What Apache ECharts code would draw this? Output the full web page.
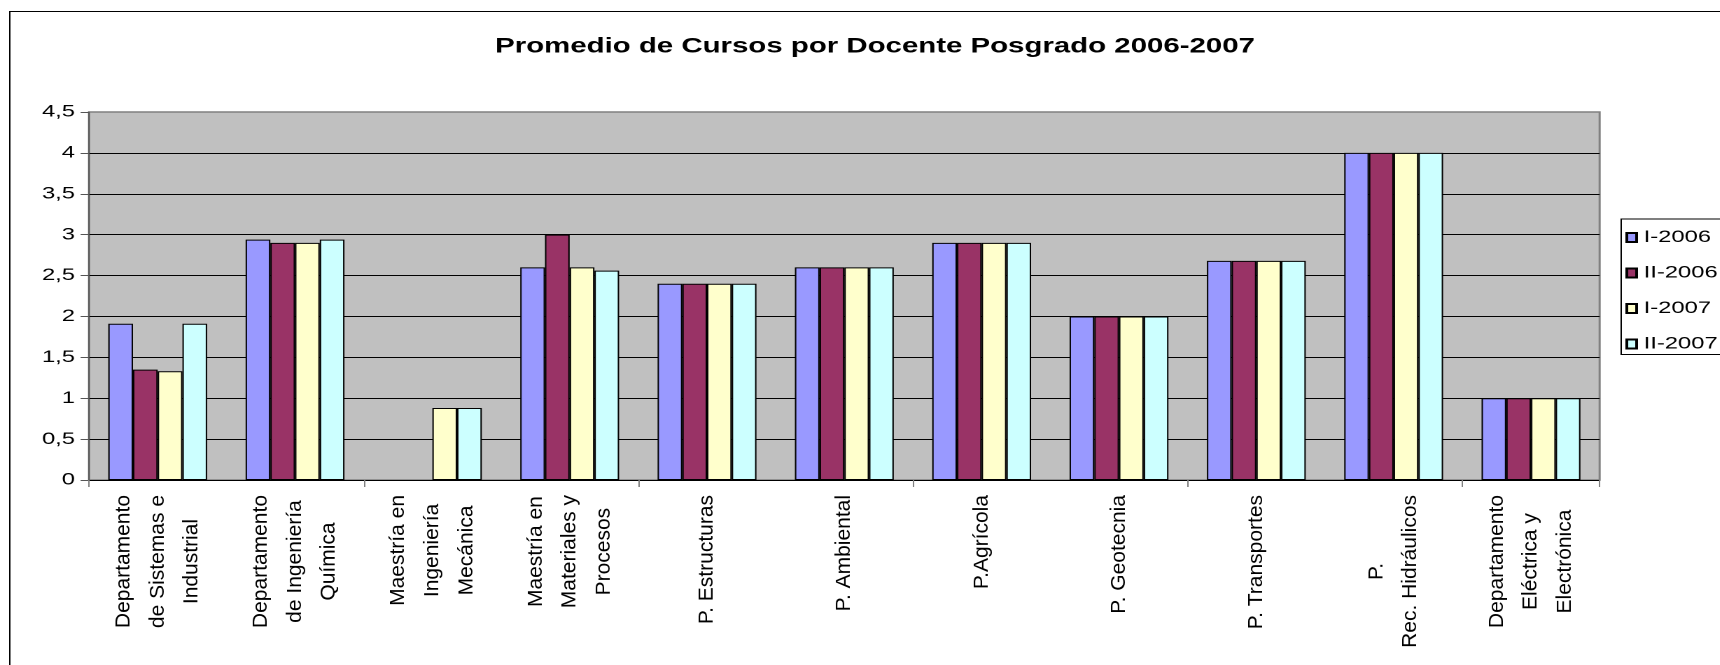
<!DOCTYPE html>
<html>
<head>
<meta charset="utf-8">
<title>Promedio de Cursos por Docente Posgrado 2006-2007</title>
<script src="https://cdn.jsdelivr.net/npm/echarts@6/dist/echarts.min.js"></script>
<style>
  html, body { margin: 0; padding: 0; background: #fff; overflow: hidden; }
  /* the original is an Excel chart pasted stretched sideways: draw it narrow, then widen it */
  #main { width: 1228.6px; height: 665px; transform: scaleX(1.4); transform-origin: 0 0; }
</style>
</head>
<body>
<div id="main"></div>
<script>
// datos
const categories = [
  'Departamento\nde Sistemas e\nIndustrial',
  'Departamento\nde Ingeniería\nQuímica',
  'Maestría en\nIngeniería\nMecánica',
  'Maestría en\nMateriales y\nProcesos',
  'P. Estructuras',
  'P. Ambiental',
  'P.Agrícola',
  'P. Geotecnia',
  'P. Transportes',
  'P.\nRec. Hidráulicos',
  'Departamento\nEléctrica y\nElectrónica'
]
const seriesNames = ['I-2006', 'II-2006', 'I-2007', 'II-2007']
const i2006 = [1.91, 2.94, null, 2.6, 2.4, 2.6, 2.9, 2, 2.68, 4, 1]
const ii2006 = [1.35, 2.9, null, 3, 2.4, 2.6, 2.9, 2, 2.68, 4, 1]
const i2007 = [1.33, 2.9, 0.88, 2.6, 2.4, 2.6, 2.9, 2, 2.68, 4, 1]
const ii2007 = [1.91, 2.94, 0.88, 2.56, 2.4, 2.6, 2.9, 2, 2.68, 4, 1]
const yTicks = ['0', '0,5', '1', '1,5', '2', '2,5', '3', '3,5', '4', '4,5']

const colors = ['#9999FF', '#993366', '#FFFFCC', '#CCFFFF']
const font = 'Liberation Sans, Arial, sans-serif'
const stretch = 1.4

const myChart = echarts.init(document.getElementById('main'), null, { devicePixelRatio: 2 })

// marco exterior del grafico
const frame = {
  type: 'rect',
  shape: { x: 7, y: 11.5, width: 1400, height: 800 },
  style: { fill: 'none', stroke: '#000', lineWidth: 1 },
  silent: true
}

const option = {
  backgroundColor: '#fff',
  animation: false,
  title: {
    text: 'Promedio de Cursos por Docente Posgrado 2006-2007',
    left: 625,
    top: 36,
    padding: 0,
    textAlign: 'center',
    textStyle: { fontFamily: font, fontSize: 21, fontWeight: 'bold', color: '#000' }
  },
  graphic: [frame],
  legend: {
    orient: 'vertical',
    left: 1158,
    top: 219,
    data: seriesNames,
    icon: 'rect',
    itemWidth: 7,
    itemHeight: 9,
    itemGap: 18.5,
    padding: [10, 40, 2, 3],
    borderColor: '#000',
    borderWidth: 1,
    textStyle: { fontFamily: font, fontSize: 17, color: '#000' }
  },
  grid: {
    left: 63.6,
    right: 86.4,
    top: 112,
    bottom: 185,
    show: true,
    backgroundColor: '#C0C0C0',
    borderColor: '#808080',
    borderWidth: 1.5
  },
  xAxis: {
    type: 'category',
    data: categories,
    axisLine: { lineStyle: { color: '#000', width: 1 } },
    axisTick: { show: true, length: 7, lineStyle: { color: '#808080' } },
    axisLabel: { show: false }
  },
  yAxis: {
    type: 'value',
    min: 0,
    max: 4.5,
    interval: 0.5,
    axisLine: { show: true, lineStyle: { color: '#555', width: 1 } },
    axisTick: { show: true, length: 6, lineStyle: { color: '#555' } },
    axisLabel: {
      margin: 10,
      fontFamily: font,
      fontSize: 17,
      color: '#000',
      formatter: (v) => yTicks[Math.round(v / 0.5)]
    },
    splitLine: { show: true, showMinLine: false, showMaxLine: false, lineStyle: { color: '#000', width: 1 } }
  },
  series: [i2006, ii2006, i2007, ii2007].map((d, i) => ({
    name: seriesNames[i],
    type: 'bar',
    data: d,
    barGap: '0%',
    barCategoryGap: '28%',
    itemStyle: { color: colors[i], borderColor: '#000', borderWidth: 1 }
  }))
}

myChart.setOption(option)

// las etiquetas giradas del eje X no salen estiradas en el original,
// asi que se dibujan aparte y se comprimen para compensar el scaleX
const zeroY = myChart.convertToPixel({ yAxisIndex: 0 }, 0)
const labels = categories.map((c, i) => ({
  type: 'text',
  x: myChart.convertToPixel({ xAxisIndex: 0 }, i),
  y: zeroY + 15,
  rotation: Math.PI / 2,
  scaleY: 1 / stretch,
  silent: true,
  style: {
    text: c.split('\n').map(l => '{c|' + l + '}').join('\n'),
    align: 'right',
    verticalAlign: 'middle',
    rich: {
      c: { align: 'center', fontFamily: font, fontSize: 21, lineHeight: 34, fill: '#000' }
    }
  }
}))

myChart.setOption({ graphic: [frame].concat(labels) })
</script>
</body>
</html>
